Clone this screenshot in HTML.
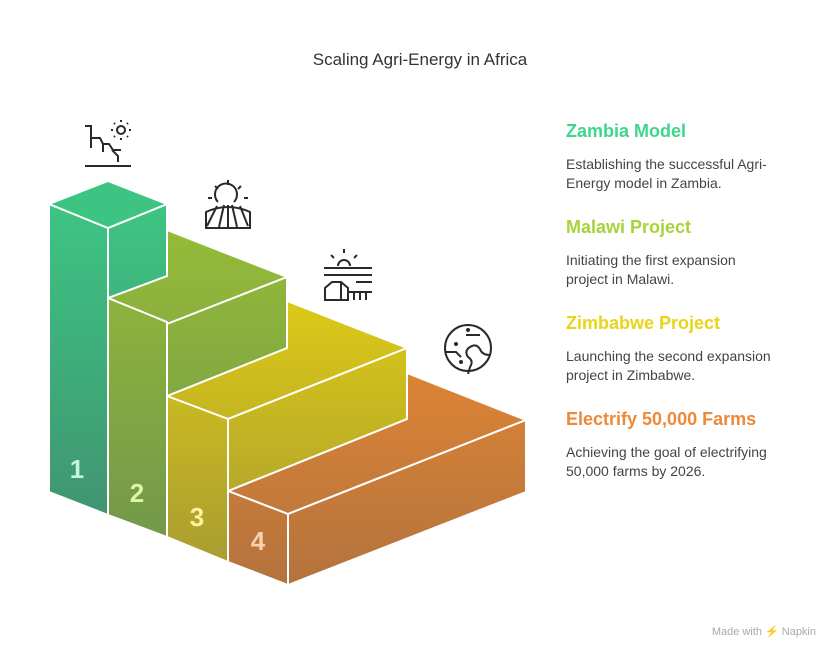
<!DOCTYPE html>
<html><head><meta charset="utf-8"><style>
body{margin:0;width:840px;height:660px;background:#fff;overflow:hidden;font-family:"Liberation Sans",sans-serif}
.t{position:absolute;left:0;width:840px;text-align:center;top:50px;font-size:17px;color:#333}
.h{position:absolute;left:566px;font-size:18px;font-weight:bold;white-space:nowrap}
.d{position:absolute;left:566px;font-size:14px;line-height:19px;color:#444;width:210px}
.w{position:absolute;right:24px;top:625px;font-size:11px;color:#aaa}
</style></head><body>
<div class="t">Scaling Agri-Energy in Africa</div>
<svg width="840" height="660" style="position:absolute;left:0;top:0">
<defs>
<linearGradient id="g1" gradientUnits="userSpaceOnUse" x1="0" y1="181" x2="0" y2="515"><stop offset="0" stop-color="#3dc884"/><stop offset="1" stop-color="#409572"/></linearGradient>
<linearGradient id="g2" gradientUnits="userSpaceOnUse" x1="0" y1="230" x2="0" y2="537"><stop offset="0" stop-color="#95bb38"/><stop offset="1" stop-color="#72984c"/></linearGradient>
<linearGradient id="g3" gradientUnits="userSpaceOnUse" x1="0" y1="301" x2="0" y2="562"><stop offset="0" stop-color="#dcc916"/><stop offset="1" stop-color="#a99d32"/></linearGradient>
<linearGradient id="g4" gradientUnits="userSpaceOnUse" x1="0" y1="373" x2="0" y2="585"><stop offset="0" stop-color="#dc8435"/><stop offset="1" stop-color="#b3733e"/></linearGradient>
</defs>
<g stroke="#fff" stroke-width="2" stroke-linejoin="round">
<polygon fill="url(#g4)" points="228,491 407,419 407,373 526,420 288,514"/>
<polygon fill="url(#g4)" points="228,491 288,514 288,585 228,562"/>
<polygon fill="url(#g4)" points="288,514 526,420 526,492 288,585"/>
<polygon fill="url(#g3)" points="167,396 287,348 287,301 407,348 228,419"/>
<polygon fill="url(#g3)" points="167,396 228,419 228,562 167,537"/>
<polygon fill="url(#g3)" points="228,419 407,348 407,419 228,491"/>
<polygon fill="url(#g2)" points="108,298 167,276 167,230 287,277 167,324"/>
<polygon fill="url(#g2)" points="108,298 167,322 167,537 108,515"/>
<polygon fill="url(#g2)" points="167,324 287,277 287,348 167,396"/>
<polygon fill="url(#g1)" points="49,204 108,228 108,515 49,492"/>
<polygon fill="url(#g1)" points="108,228 167,204 167,276 108,298"/>
<polygon fill="#3dc482" points="49,204 108,181 167,204 108,228"/>
</g>
<g font-family="Liberation Sans" font-weight="bold" font-size="26" text-anchor="middle">
<text x="77" y="478" fill="#c3f7d9">1</text>
<text x="137" y="502" fill="#dff5a8">2</text>
<text x="197" y="526" fill="#fff29a">3</text>
<text x="258" y="550" fill="#fbd0aa">4</text>
</g>
<g fill="none" stroke="#2a2a2a" stroke-width="2">
<path d="M85,126h6v22M91,138h9l3,6v8M103,144h6l4,6h8M112,150l6,6v6M85,166h46"/>
<circle cx="121" cy="130" r="4"/>
<path d="M121,122v-2M121,138v2M113,130h-2M129,130h2M115,124l-1,-1M127,124l1,-1M115,136l-1,1M127,136l1,1"/>
<path d="M218,202a11,11 0 1 1 16,0"/>
<path d="M228,185v-5M218,189l-3,-3M238,189l3,-3M212,198h-4M244,198h4"/>
<path d="M206,212q22,-10 44,0v16h-44z M217,206l-10,20M224,205l-5,22M228,205v22M232,205l5,22M240,206l8,20"/>
<path d="M324,268h48M324,275h48M356,282h16M338,266a6,6 0 0 1 12,0 M344,253v-4M334,258l-3,-3M354,258l3,-3"/>
<path d="M325,300v-12l7,-6h9l7,6v12zM341,282v18M348,292h24M354,292v8M360,292v8M366,292v8"/>
<circle cx="468" cy="348" r="23"/>
<path d="M446,352h10l5,5M466,335h14M490,355q-8,0 -10,-6q-4,-6 -10,-2q-6,4 -2,10q6,4 2,10l-2,7"/>
<circle cx="456" cy="344" r="1" fill="#2a2a2a"/><circle cx="468" cy="330" r="1" fill="#2a2a2a"/><circle cx="461" cy="362" r="1" fill="#2a2a2a"/>
</g>
</svg>
<div class="h" style="top:121px;color:#3ed68c">Zambia Model</div>
<div class="d" style="top:155px">Establishing the successful Agri-Energy model in Zambia.</div>
<div class="h" style="top:217px;color:#a6d33a">Malawi Project</div>
<div class="d" style="top:251px">Initiating the first expansion project in Malawi.</div>
<div class="h" style="top:313px;color:#e8d418">Zimbabwe Project</div>
<div class="d" style="top:347px">Launching the second expansion project in Zimbabwe.</div>
<div class="h" style="top:409px;color:#ec8a3a">Electrify 50,000 Farms</div>
<div class="d" style="top:443px">Achieving the goal of electrifying 50,000 farms by 2026.</div>
<div class="w">Made with ⚡ Napkin</div>
</body></html>
